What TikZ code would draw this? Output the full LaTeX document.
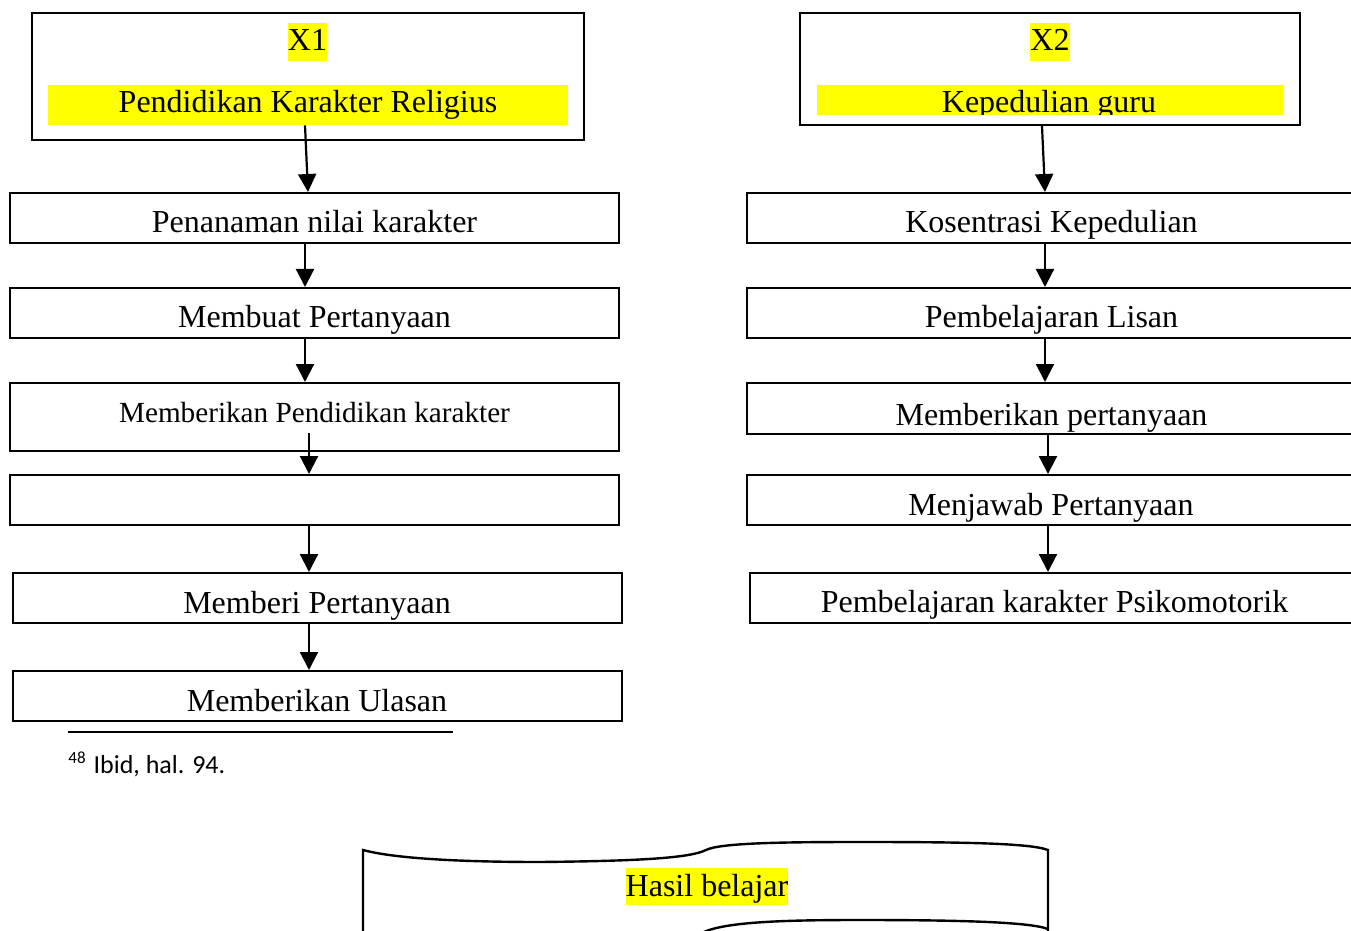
\documentclass[tikz,border=0pt]{standalone}
\usepackage{fontspec}
\setmainfont{Liberation Serif}
\newfontfamily\notefont{Carlito}
\usetikzlibrary{arrows.meta,calc}
\definecolor{hl}{RGB}{255,255,0}
\begin{document}
\begin{tikzpicture}[x=0.5pt,y=-0.5pt,
  box/.style={draw,line width=1pt,inner sep=0,minimum height=25pt,minimum width=304.5pt},
  band/.style={fill=hl,inner sep=0},
  lbl/.style={anchor=base,inner sep=0,font=\fontsize{16}{19}\selectfont},
  hlt/.style={fill=hl,inner sep=0,text height=14pt,text depth=5pt,font=\fontsize{16}{19}\selectfont},
  arr/.style={line width=1.1pt,-{Triangle[length=9pt,width=9pt]}}]
\clip (0,0) rectangle (1351,931);
\fill[white] (0,0) rectangle (1351,931);
% ---------- left column ----------
\node[box,minimum width=276pt,minimum height=63.5pt] (b0) at (308,76.5) {};
\node[hlt] (x1) at (307.5,42) {X1};
\node[band,minimum width=260pt,minimum height=20pt] (yb1) at (308,105) {};
\node[lbl] (t0) at (308,113) {Pendidikan Karakter Religius};
\node[box] (b1) at (314.5,218) {};
\node[lbl] (t1) at (314.5,233) {Penanaman nilai karakter};
\node[box] (b2) at (314.5,313) {};
\node[lbl] (t2) at (314.5,328) {Membuat Pertanyaan};
\node[box,minimum height=34pt] (b3) at (314.5,417) {};
\node[lbl,font=\fontsize{14.6}{17}\selectfont] (t3) at (314.5,422) {Memberikan Pendidikan karakter};
\node[box] (b4) at (314.5,500) {};
\node[box] (b5) at (317.5,598) {};
\node[lbl] (t5) at (317,613) {Memberi Pertanyaan};
\node[box] (b6) at (317.5,696) {};
\node[lbl] (t6) at (317,711) {Memberikan Ulasan};
\draw[arr] ($(yb1.south)+(-3,0)$) -- ($(b1.north)+(-6.5,0)$);
\draw[arr] ($(b1.south)+(-9.5,0)$) -- ($(b2.north)+(-9.5,0)$);
\draw[arr] ($(b2.south)+(-9.5,0)$) -- ($(b3.north)+(-9.5,0)$);
\draw[arr] ($(b3.south)+(-5.5,-19)$) -- ($(b4.north)+(-5.5,0)$);
\draw[arr] ($(b4.south)+(-5.5,0)$) -- ($(b5.north)+(-8.5,0)$);
\draw[arr] ($(b5.south)+(-8.5,0)$) -- ($(b6.north)+(-8.5,0)$);
% ---------- right column ----------
\node[box,minimum width=250pt,minimum height=56pt] (c0) at (1050,69) {};
\node[hlt] (x2) at (1050,42) {X2};
\node[band,minimum width=233pt,minimum height=15pt] (yb2) at (1050,100) {};
\begin{scope}
  \clip (817,85) rectangle (1283,115);
  \node[lbl] (s0) at (1049,113) {Kepedulian guru};
\end{scope}
\node[box,minimum width=311.5pt] (c1) at (1058.5,218) {};
\node[lbl] (s1) at (1051.5,233) {Kosentrasi Kepedulian};
\node[box,minimum width=311.5pt] (c2) at (1058.5,313) {};
\node[lbl] (s2) at (1051.5,328) {Pembelajaran Lisan};
\node[box,minimum width=311.5pt,minimum height=25.5pt] (c3) at (1058.5,408.5) {};
\node[lbl] (s3) at (1051.5,425) {Memberikan pertanyaan};
\node[box,minimum width=311.5pt] (c4) at (1058.5,500) {};
\node[lbl] (s4) at (1051,515) {Menjawab Pertanyaan};
\node[box,minimum width=310pt] (c5) at (1060,598) {};
\node[lbl] (s5) at (1054.5,612) {Pembelajaran karakter Psikomotorik};
\draw[arr] ($(c0.south)+(-8,0)$) -- ($(c1.north)+(-13.5,0)$);
\draw[arr] ($(c1.south)+(-13.5,0)$) -- ($(c2.north)+(-13.5,0)$);
\draw[arr] ($(c2.south)+(-13.5,0)$) -- ($(c3.north)+(-13.5,0)$);
\draw[arr] ($(c3.south)+(-10.5,0)$) -- ($(c4.north)+(-10.5,0)$);
\draw[arr] ($(c4.south)+(-10.5,0)$) -- ($(c5.north)+(-12,0)$);
% ---------- footnote ----------
\coordinate (fl) at (68,732);
\coordinate (fr) at (453,732);
\draw[line width=0.8pt] (fl) -- (fr);
\node[anchor=base west,inner sep=0] (fn) at (68,773)
  {\notefont\fontsize{13}{15}\selectfont\raisebox{5pt}{\fontsize{8.5}{10}\selectfont 48}\hspace{4pt}Ibid, hal. 94.};
% ---------- scroll shape ----------
\draw[line width=1.2pt]
  (363,940) -- (363,850)
  .. controls (400,860) and (480,862) .. (540,862)
  .. controls (640,861) and (690,858) .. (706,850)
  .. controls (720,843) and (780,842) .. (860,842)
  .. controls (960,842) and (1030,843) .. (1048,850)
  -- (1048,940);
\draw[line width=1.2pt]
  (700,934) .. controls (720,922) and (780,920) .. (860,920)
  .. controls (960,920) and (1030,922) .. (1048,929);
\node[hlt,text height=14pt,text depth=4.5pt] (hb) at (707,886.5) {Hasil belajar};
\end{tikzpicture}
\end{document}
